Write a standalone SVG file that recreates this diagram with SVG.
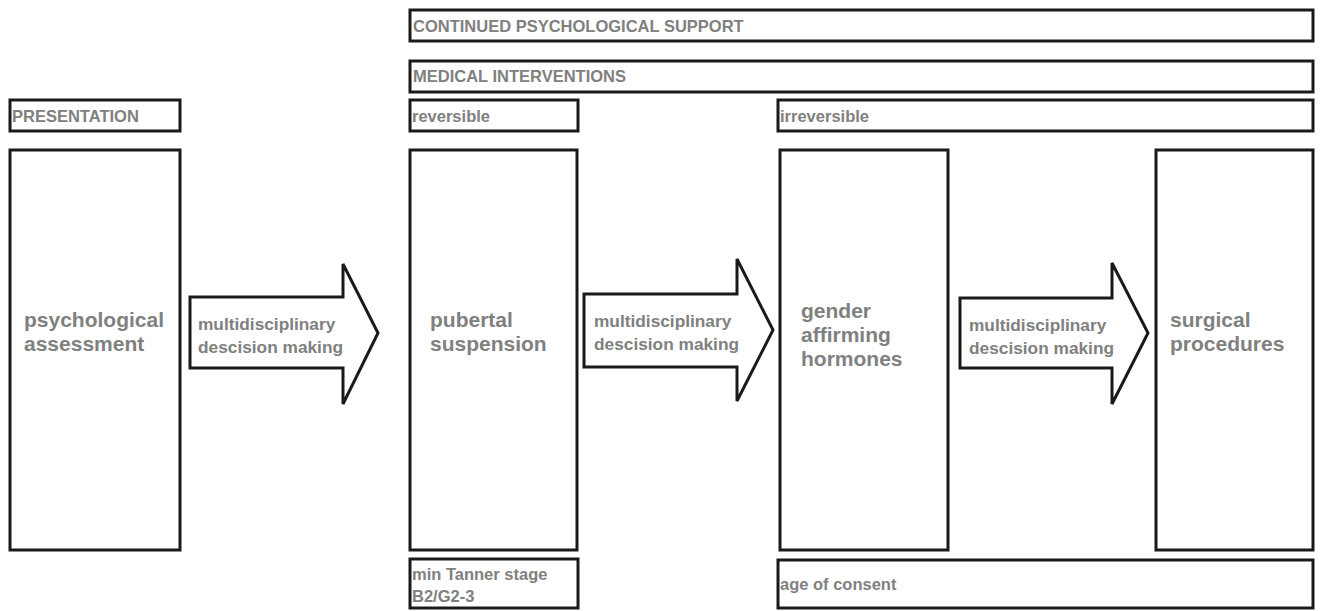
<svg xmlns="http://www.w3.org/2000/svg" width="1322" height="611" viewBox="0 0 1322 611">
<style>
.b{fill:#fff;stroke:#1a1a1a;stroke-width:3}
.t{font-family:"Liberation Sans",Arial,sans-serif;font-weight:bold;fill:#808080}
.s{font-size:16.5px}
.m{font-size:17.3px}
.l{font-size:21px}
</style>
<rect width="1322" height="611" fill="#fff"/>
<g id="continued"><rect class="b" x="410" y="10" width="903" height="31"/><text class="t s" x="413" y="32">CONTINUED PSYCHOLOGICAL SUPPORT</text></g>
<g id="medical"><rect class="b" x="410" y="61" width="903" height="31"/><text class="t s" x="413" y="82">MEDICAL INTERVENTIONS</text></g>
<g id="presentation"><rect class="b" x="10" y="100" width="170" height="31"/><text class="t s" x="12" y="122">PRESENTATION</text></g>
<g id="reversible"><rect class="b" x="410" y="100" width="168" height="31"/><text class="t s" x="412" y="122">reversible</text></g>
<g id="irreversible"><rect class="b" x="778" y="100" width="535" height="31"/><text class="t s" x="780" y="122">irreversible</text></g>
<g id="psych"><rect class="b" x="10" y="150" width="170" height="400"/><text class="t l" x="24" y="327">psychological</text><text class="t l" x="24" y="351">assessment</text></g>
<g id="pubertal"><rect class="b" x="410" y="150" width="167" height="400"/><text class="t l" x="430" y="327">pubertal</text><text class="t l" x="430" y="351">suspension</text></g>
<g id="gender"><rect class="b" x="780" y="150" width="168" height="400"/><text class="t l" x="801" y="318">gender</text><text class="t l" x="801" y="342">affirming</text><text class="t l" x="801" y="366">hormones</text></g>
<g id="surgical"><rect class="b" x="1156" y="150" width="157" height="400"/><text class="t l" x="1170" y="327">surgical</text><text class="t l" x="1170" y="351">procedures</text></g>
<g id="tanner"><rect class="b" x="410" y="559" width="168" height="49"/><text class="t s" x="412" y="580">min Tanner stage</text><text class="t s" x="412" y="602">B2/G2-3</text></g>
<g id="consent"><rect class="b" x="778" y="560" width="535" height="48"/><text class="t s" x="780" y="590">age of consent</text></g>
<g id="connectors">
<g id="arrow1"><polygon class="b" points="190,297 343,297 343,264 378,333 343,404 343,368 190,368"/><text class="t m" x="198" y="330">multidisciplinary</text><text class="t m" x="198" y="353">descision making</text></g>
<g id="arrow2"><polygon class="b" points="584,294 737,294 737,259 773,330 737,401 737,367 584,367"/><text class="t m" x="594" y="327">multidisciplinary</text><text class="t m" x="594" y="350">descision making</text></g>
<g id="arrow3"><polygon class="b" points="960,298 1112,298 1112,263 1148,333 1112,404 1112,368 960,368"/><text class="t m" x="969" y="331">multidisciplinary</text><text class="t m" x="969" y="354">descision making</text></g>
</g>
</svg>
